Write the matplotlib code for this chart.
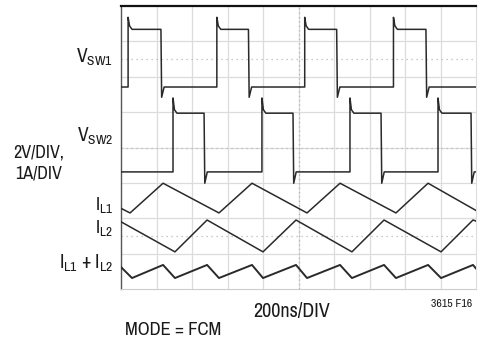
import matplotlib
matplotlib.use("Agg")
import matplotlib.pyplot as plt

plt.rcParams['font.family'] = ['Archivo Narrow', 'Liberation Sans', 'DejaVu Sans']
plt.rcParams['mathtext.fontset'] = 'custom'
plt.rcParams['mathtext.rm'] = 'Archivo Narrow'

# time axis: 200 ns/div, 10 divisions; vertical in screen divisions (8)
T_SPAN = 2000
N_VDIV = 8

# switch nodes: edge times (ns) and levels (div)
vsw1_rise = [40, 540, 1035, 1535]
vsw1_fall = [225, 718, 1215, 1718]
vsw1_levels = {'high': 7.34, 'spike': 7.68, 'low': 5.71, 'dip': 5.42}

vsw2_rise = [293, 794, 1290, 1786]
vsw2_fall = [468, 969, 1465, 1972]
vsw2_levels = {'high': 4.97, 'spike': 5.40, 'low': 3.31, 'dip': 2.99}

# inductor currents: vertices (ns, div)
il1_t = [0, 51, 237, 552, 738, 1048, 1234, 1549, 1730, 2000]
il1_y = [2.28, 2.15, 2.99, 2.15, 2.99, 2.15, 2.99, 2.15, 2.99, 2.22]

il2_t = [0, 304, 485, 800, 986, 1301, 1482, 1803, 1983, 2000]
il2_y = [1.90, 1.05, 1.95, 1.05, 1.95, 1.05, 1.95, 1.05, 1.95, 1.92]

isum_t = [0, 62, 237, 304, 485, 552, 738, 800, 986, 1048, 1234, 1301, 1482, 1549, 1730, 1803, 1983, 2000]
isum_y = [0.62, 0.31, 0.68, 0.31, 0.68, 0.31, 0.68, 0.31, 0.68, 0.31, 0.68, 0.31, 0.68, 0.31, 0.68, 0.31, 0.68, 0.58]


def switch_trace(rise, fall, lv):
    # square wave with overshoot on rising edge, undershoot on falling edge
    edges = sorted([(t, 'r') for t in rise] + [(t, 'f') for t in fall])
    state = 'low' if edges[0][1] == 'r' else 'high'
    t = [0]
    y = [lv[state]]
    for te, kind in edges:
        if kind == 'r':
            t += [te, te, te + 8, te + 22]
            y += [lv['low'], lv['spike'], lv['high'] + 0.1, lv['high']]
        else:
            t += [te, te + 4, te + 18]
            y += [lv['high'], lv['dip'], lv['low']]
    t.append(T_SPAN)
    y.append(y[-1])
    return t, y


fig = plt.figure(figsize=(4.8, 3.39), dpi=100)
ax = fig.add_axes([121 / 480, 50 / 339, 355 / 480, 283 / 339])
ax.set_xlim(0, T_SPAN)
ax.set_ylim(0, N_VDIV)

for i in range(1, 10):
    ax.axvline(i * 200, color='#dcdcdc', lw=0.9, zorder=1)
for j in range(1, N_VDIV):
    ax.axhline(j, color='#dcdcdc', lw=0.9, zorder=1)
ax.axvline(1000, color='#b0b0b0', lw=0.9, ls=(0, (1, 2.5)), zorder=1)
for yl in [1.5, 4, 6.5]:
    ax.axhline(yl, color='#b8b8b8', lw=0.9, ls=(0, (1, 3)), zorder=1)

trace = dict(color='#2a2a2a', lw=1.1, zorder=3)
t1, y1 = switch_trace(vsw1_rise, vsw1_fall, vsw1_levels)
ax.plot(t1, y1, **trace)
t2, y2 = switch_trace(vsw2_rise, vsw2_fall, vsw2_levels)
ax.plot(t2, y2, **trace)
ax.plot(il1_t, il1_y, **trace)
ax.plot(il2_t, il2_y, **trace)
ax.plot(isum_t, isum_y, color='#2a2a2a', lw=1.4, zorder=3)

ax.set_xticks([])
ax.set_yticks([])
ax.spines['top'].set_color('#111111')
ax.spines['top'].set_linewidth(1.6)
ax.spines['left'].set_color('#555555')
ax.spines['left'].set_linewidth(1.0)
ax.spines['bottom'].set_color('#cccccc')
ax.spines['right'].set_color('#dddddd')


def ftext(px, py, s, **kw):
    fig.text(px / 480, 1 - py / 339, s, va='baseline', color='#1a1a1a', **kw)


fs = 14
ftext(113, 63, r'$\mathrm{V}_{\mathrm{SW1}}$', ha='right', fontsize=fs)
ftext(113, 142, r'$\mathrm{V}_{\mathrm{SW2}}$', ha='right', fontsize=fs)
ftext(39, 158, '2V/DIV,', ha='center', fontsize=13)
ftext(39, 178, '1A/DIV', ha='center', fontsize=13)
ftext(113, 211, r'$\mathrm{I}_{\mathrm{L1}}$', ha='right', fontsize=13.5)
ftext(113, 234, r'$\mathrm{I}_{\mathrm{L2}}$', ha='right', fontsize=13.5)
ftext(113, 269, r'$\mathrm{I}_{\mathrm{L1}}$ + $\mathrm{I}_{\mathrm{L2}}$', ha='right', fontsize=fs)
ftext(253, 317, '200ns/DIV', ha='left', fontsize=14.5)
ftext(472, 307, '3615 F16', ha='right', fontsize=8.5)
ftext(125, 335, 'MODE = FCM', ha='left', fontsize=13.5)

fig.savefig('out.png', dpi=100)
